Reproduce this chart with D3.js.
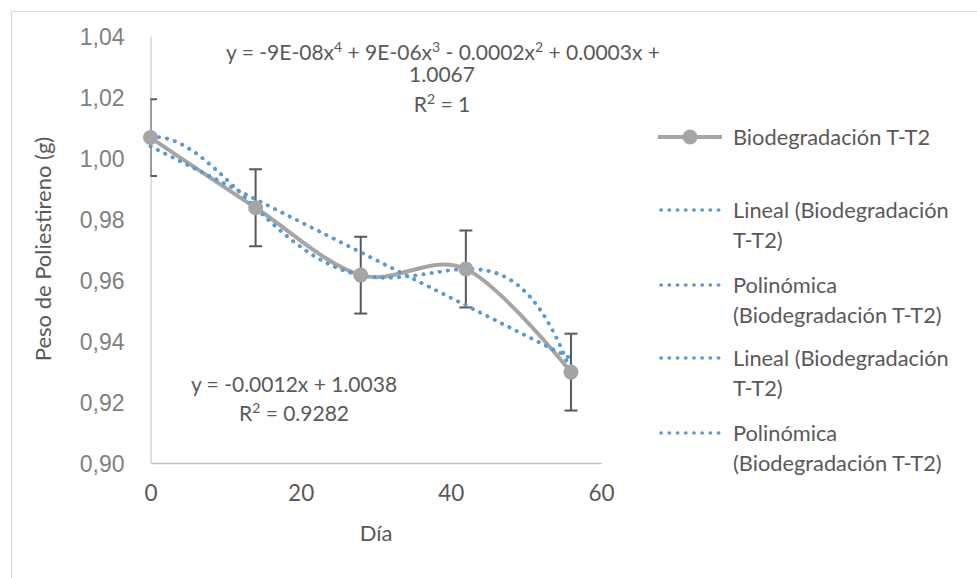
<!DOCTYPE html>
<html>
<head>
<meta charset="utf-8">
<script src="https://cdn.jsdelivr.net/npm/d3@7"></script>
<style>
  html, body { margin: 0; padding: 0; background: #fff; }
  svg { display: block; }
  text { font-family: Lato, "Open Sans", sans-serif; }
</style>
</head>
<body>
<svg id="chart" width="977" height="578"></svg>
<script>
// ---- data ----
const days = [0, 14, 28, 42, 56];
const weights = [1.0067, 0.9837, 0.9616, 0.9636, 0.9298];
const errorValues = [0.0126, 0.0126, 0.0126, 0.0126, 0.0126];
const xTicks = [0, 20, 40, 60];
const yTicks = [0.90, 0.92, 0.94, 0.96, 0.98, 1.00, 1.02, 1.04];
const seriesName = "Biodegradación T-T2";
const legendLabels = [
  ["Biodegradación T-T2"],
  ["Lineal (Biodegradación", "T-T2)"],
  ["Polinómica", "(Biodegradación T-T2)"],
  ["Lineal (Biodegradación", "T-T2)"],
  ["Polinómica", "(Biodegradación T-T2)"]
];
const polyEquation = [["y = -9E-08x", ""], ["4", "sup"], [" + 9E-06x", ""], ["3", "sup"], [" - 0.0002x", ""], ["2", "sup"], [" + 0.0003x +", ""]];
const polyEquation2 = "1.0067";
const polyR2 = "1";
const linEquation = "y = -0.0012x + 1.0038";
const linR2 = "0.9282";
const xTitle = "Día";
const yTitle = "Peso de Poliestireno (g)";

// ---- fits ----
function polyFit(xs, ys, order) {
  const n = order + 1;
  const A = Array.from({length: n}, () => new Array(n + 1).fill(0));
  for (let r = 0; r < n; r++) {
    for (let c = 0; c < n; c++) A[r][c] = d3.sum(xs, x => Math.pow(x, r + c));
    A[r][n] = d3.sum(xs, (x, i) => ys[i] * Math.pow(x, r));
  }
  for (let i = 0; i < n; i++) {
    let p = i;
    for (let k = i + 1; k < n; k++) if (Math.abs(A[k][i]) > Math.abs(A[p][i])) p = k;
    [A[i], A[p]] = [A[p], A[i]];
    for (let k = 0; k < n; k++) {
      if (k === i) continue;
      const f = A[k][i] / A[i][i];
      for (let c = i; c <= n; c++) A[k][c] -= f * A[i][c];
    }
  }
  return A.map((row, i) => row[n] / row[i]);
}
const evalPoly = (co, x) => co.reduce((s, c, i) => s + c * Math.pow(x, i), 0);
const linCo = polyFit(days, weights, 1);
const quartCo = polyFit(days, weights, 4);

// ---- layout ----
const svg = d3.select("#chart");
const x = d3.scaleLinear().domain([0, 60]).range([150.5, 601]);
const y = d3.scaleLinear().domain([0.90, 1.04]).range([463, 36]);

svg.append("rect").attr("x", 11.5).attr("y", 11.5).attr("width", 1100).attr("height", 700)
  .attr("fill", "#fff").attr("stroke", "#d9d9d9").attr("stroke-width", 1);

svg.append("defs").append("clipPath").attr("id", "plotclip")
  .append("rect").attr("x", x(0)).attr("y", 20).attr("width", x(60) - x(0) + 20).attr("height", y(0.90) - 20);

// y axis
const yAxis = d3.axisLeft(y).tickValues(yTicks).tickSize(0).tickPadding(26)
  .tickFormat(d => d3.format(".2f")(d).replace(".", ","));
const gy = svg.append("g").attr("transform", `translate(${x(0)},0)`).call(yAxis);
gy.select(".domain").attr("stroke", "#d0d0d0").attr("stroke-width", 1.3);
gy.selectAll("text").attr("fill", "#808080").style("font-family", "'Liberation Sans', Arial, sans-serif")
  .attr("font-size", 23).attr("dy", "0.35em");

// x axis
const xAxis = d3.axisBottom(x).tickValues(xTicks).tickSize(0).tickPadding(22);
const gx = svg.append("g").attr("transform", `translate(0,${y(0.90)})`).call(xAxis);
gx.select(".domain").attr("stroke", "#bfbfbf").attr("stroke-width", 1.3);
gx.selectAll("text").attr("fill", "#595959").attr("font-size", 22.5);

// axis titles
svg.append("text").attr("transform", `translate(51,249) rotate(-90)`)
  .attr("text-anchor", "middle").attr("fill", "#595959").attr("font-size", 22).text(yTitle);
svg.append("text").attr("x", 376).attr("y", 541)
  .attr("text-anchor", "middle").attr("fill", "#595959").attr("font-size", 22).text(xTitle);

// error bars
const eb = svg.append("g").attr("clip-path", "url(#plotclip)").attr("stroke", "#595959").attr("stroke-width", 2);
days.forEach((d, i) => {
  const x0 = x(d), yt = y(weights[i] + errorValues[i]), yb = y(weights[i] - errorValues[i]);
  eb.append("line").attr("x1", x0).attr("x2", x0).attr("y1", yt).attr("y2", yb);
  eb.append("line").attr("x1", x0 - 6.5).attr("x2", x0 + 6.5).attr("y1", yt).attr("y2", yt);
  eb.append("line").attr("x1", x0 - 6.5).attr("x2", x0 + 6.5).attr("y1", yb).attr("y2", yb);
});

// series line
const line = d3.line().x(d => x(d[0])).y(d => y(d[1])).curve(d3.curveCardinal.tension(0));
const pts = days.map((d, i) => [d, weights[i]]);
svg.append("path").attr("d", line(pts)).attr("fill", "none").attr("stroke", "#a5a5a5").attr("stroke-width", 4);

// trend lines
const xs = d3.range(0, 56.01, 0.5);
const straight = d3.line().x(d => x(d[0])).y(d => y(d[1]));
const dotStyle = sel => sel.attr("fill", "none").attr("stroke", "#5b9bd5").attr("stroke-width", 3.6)
  .attr("stroke-linecap", "round").attr("stroke-dasharray", "0.3 7.9");
[linCo, quartCo, linCo, quartCo].forEach(co => {
  svg.append("path").attr("d", straight(xs.map(v => [v, evalPoly(co, v)]))).call(dotStyle);
});

// markers
svg.selectAll("circle.m").data(pts).join("circle").attr("class", "m")
  .attr("cx", d => x(d[0])).attr("cy", d => y(d[1])).attr("r", 7.5).attr("fill", "#a5a5a5");

// equations
const eqG = svg.append("g").attr("fill", "#595959").attr("font-size", 21).attr("text-anchor", "middle");
const t1 = eqG.append("text").attr("x", 443).attr("y", 52);
polyEquation.forEach(([s, kind]) => {
  if (kind === "sup") t1.append("tspan").attr("dy", -8).attr("font-size", 14).text(s);
  else t1.append("tspan").attr("dy", t1.selectAll("tspan").size() ? 8 : 0).text(s);
});
eqG.append("text").attr("x", 442).attr("y", 82).text(polyEquation2);
const r1 = eqG.append("text").attr("x", 442).attr("y", 112);
r1.append("tspan").text("R");
r1.append("tspan").attr("dy", -8).attr("font-size", 14).text("2");
r1.append("tspan").attr("dy", 8).text(" = " + polyR2);

eqG.append("text").attr("x", 294).attr("y", 392).text(linEquation);
const r2 = eqG.append("text").attr("x", 294).attr("y", 421);
r2.append("tspan").text("R");
r2.append("tspan").attr("dy", -8).attr("font-size", 14).text("2");
r2.append("tspan").attr("dy", 8).text(" = " + linR2);

// legend
const lg = svg.append("g");
const legendY = [137, 210, 285, 358, 433];
legendLabels.forEach((lines, i) => {
  const yy = legendY[i];
  if (i === 0) {
    lg.append("line").attr("x1", 658).attr("x2", 722).attr("y1", yy).attr("y2", yy)
      .attr("stroke", "#a5a5a5").attr("stroke-width", 4);
    lg.append("circle").attr("cx", 690).attr("cy", yy).attr("r", 7.5).attr("fill", "#a5a5a5");
  } else {
    lg.append("path").attr("d", `M661,${yy}H720`).call(dotStyle);
  }
  lines.forEach((s, k) => {
    lg.append("text").attr("x", 733).attr("y", yy + k * 30).attr("dy", "0.35em")
      .attr("fill", "#595959").attr("font-size", 21.8).text(s);
  });
});
</script>
</body>
</html>
